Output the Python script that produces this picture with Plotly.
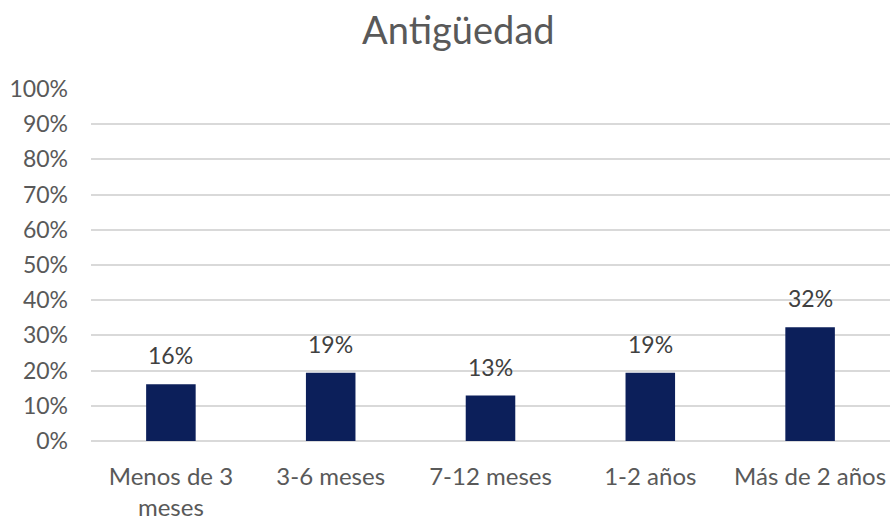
import plotly.graph_objects as go

# Data
categories = ["Menos de 3<br>meses", "3-6 meses", "7-12 meses", "1-2 años", "Más de 2 años"]
values = [16.1, 19.4, 12.9, 19.4, 32.3]
labels = [f"{round(v)}%" for v in values]
y_ticks = list(range(0, 101, 10))
y_tick_text = [f"{t}%" for t in y_ticks]

FONT = "Lato, Carlito, sans-serif"
BAR_COLOR = "#0c1f5a"
TEXT_COLOR = "#595959"

fig = go.Figure(
    go.Bar(
        x=categories,
        y=values,
        marker=dict(color=BAR_COLOR, line=dict(width=0)),
        width=0.31,
        hoverinfo="x+y",
    )
)

# Data labels above bars
for cat, val, lab in zip(categories, values, labels):
    fig.add_annotation(
        x=cat,
        y=val,
        text=lab,
        showarrow=False,
        yanchor="bottom",
        yshift=13,
        font=dict(family=FONT, size=23, color="#404040"),
    )

fig.update_layout(
    width=890,
    height=521,
    margin=dict(l=91, r=0, t=89, b=80),
    paper_bgcolor="white",
    plot_bgcolor="white",
    showlegend=False,
    title=dict(
        text="Antigüedad",
        x=0.515,
        xanchor="center",
        y=0.942,
        yanchor="middle",
        font=dict(family=FONT, size=38, color=TEXT_COLOR),
    ),
    font=dict(family=FONT, size=23, color=TEXT_COLOR),
    xaxis=dict(
        showgrid=False,
        showline=False,
        ticks="",
        tickfont=dict(family=FONT, size=24, color=TEXT_COLOR),
        ticklabelstandoff=19,
        automargin=False,
    ),
    yaxis=dict(
        range=[0, 100],
        tickvals=y_ticks,
        ticktext=y_tick_text,
        showgrid=True,
        gridcolor="#d9d9d9",
        gridwidth=1.5,
        zeroline=True,
        zerolinecolor="#d9d9d9",
        zerolinewidth=1.5,
        showline=False,
        ticks="",
        ticklabelstandoff=22,
        tickfont=dict(family=FONT, size=23, color=TEXT_COLOR),
        automargin=False,
    ),
)

# remove the default body margin so the figure sits at the page origin
fig.write_html(
    "out.html",
    config={"displayModeBar": False},
    post_script="document.body.style.margin='0';",
)
